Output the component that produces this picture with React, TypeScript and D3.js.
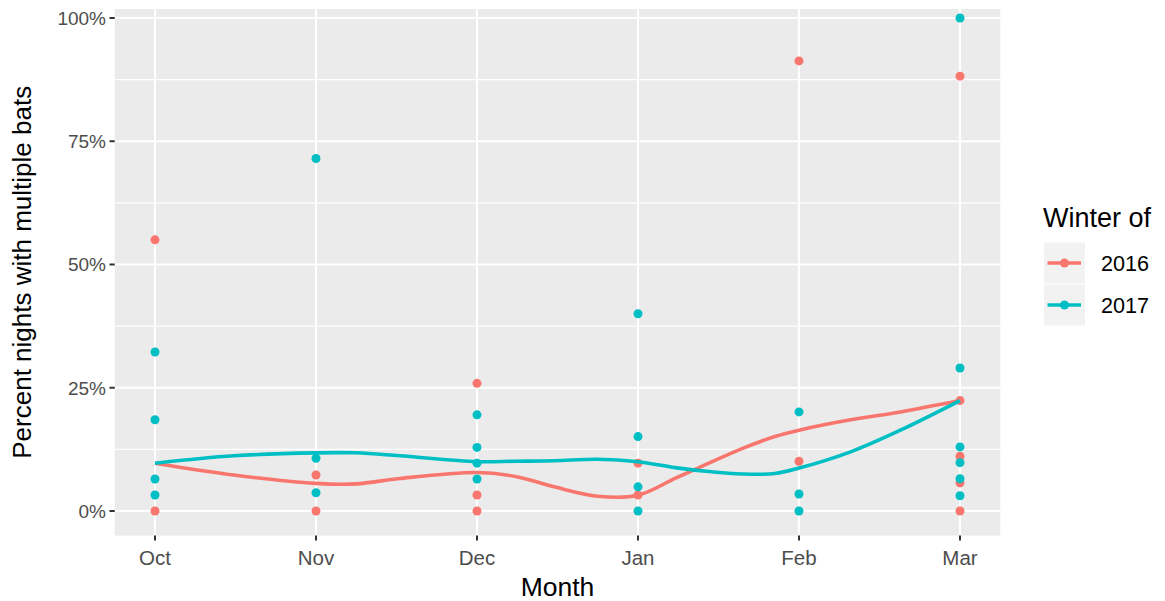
import React from "react";
import * as d3 from "d3";

const months = ["Oct", "Nov", "Dec", "Jan", "Feb", "Mar"];
const yTicks = [0, 0.25, 0.5, 0.75, 1];
const yMinor = [0.125, 0.375, 0.625, 0.875];
const seriesNames = ["2016", "2017"];
const seriesColors = ["#F8766D", "#00BFC4"];

// observed points: [month index, value]
const points2016: [number, number][] = [
  [0, 0.55], [0, 0.0],
  [1, 0.073], [1, 0.0],
  [2, 0.259], [2, 0.0325], [2, 0.0],
  [3, 0.097], [3, 0.0325],
  [4, 0.913], [4, 0.101],
  [5, 0.882], [5, 0.224], [5, 0.111], [5, 0.057], [5, 0.0],
];
const points2017: [number, number][] = [
  [0, 0.3225], [0, 0.185], [0, 0.065], [0, 0.0325],
  [1, 0.715], [1, 0.107], [1, 0.037],
  [2, 0.195], [2, 0.129], [2, 0.097], [2, 0.065],
  [3, 0.4], [3, 0.151], [3, 0.049], [3, 0.0],
  [4, 0.201], [4, 0.0345], [4, 0.0],
  [5, 1.0], [5, 0.29], [5, 0.13], [5, 0.098], [5, 0.0655], [5, 0.031],
];

// smoothed trend
const smoothX = [0, 0.49, 1.0, 1.25, 1.52, 2.0, 2.24, 2.48, 2.75, 3.0, 3.23, 3.44, 3.65, 3.85, 4.0, 4.32, 4.63, 5.0];
const smooth2016 = [0.097, 0.073, 0.056, 0.055, 0.066, 0.078, 0.07, 0.049, 0.03, 0.032, 0.066, 0.097, 0.127, 0.151, 0.164, 0.185, 0.201, 0.224];
const smooth2017 = [0.097, 0.112, 0.118, 0.118, 0.112, 0.1, 0.101, 0.102, 0.105, 0.1, 0.088, 0.08, 0.075, 0.076, 0.087, 0.12, 0.164, 0.224];

const FONT = "'Liberation Sans', Arial, Helvetica, sans-serif";

export default function App() {
  const panel = { left: 114.75, right: 1000.25, top: 9, bottom: 535.6 };
  const x = d3.scaleLinear().domain([0, 5]).range([155, 960]);
  const y = d3.scaleLinear().domain([0, 1]).range([511, 18]);
  const fmt = d3.format(".0%");

  const line = d3
    .line<[number, number]>()
    .x((d) => x(d[0]))
    .y((d) => y(d[1]))
    .curve(d3.curveCatmullRom.alpha(0.5));

  const smoothSeries = [smooth2016, smooth2017].map((vals) =>
    smoothX.map((sx, i) => [sx, vals[i]] as [number, number])
  );
  const pointSeries = [points2016, points2017];

  const legendX = 1043;
  const keyTop = [242.5, 284.5];
  const keySize = 41;

  return (
    <svg
      width={1165}
      height={601}
      style={{ position: "absolute", left: 0, top: 0, background: "#fff" }}
    >
      <rect
        x={panel.left}
        y={panel.top}
        width={panel.right - panel.left}
        height={panel.bottom - panel.top}
        fill="#EBEBEB"
      />
      {yMinor.map((v) => (
        <line key={"ym" + v} x1={panel.left} x2={panel.right} y1={y(v)} y2={y(v)} stroke="#fff" strokeWidth={1.1} />
      ))}
      {yTicks.map((v) => (
        <line key={"yg" + v} x1={panel.left} x2={panel.right} y1={y(v)} y2={y(v)} stroke="#fff" strokeWidth={2.1} />
      ))}
      {months.map((m, i) => (
        <line key={"xg" + m} x1={x(i)} x2={x(i)} y1={panel.top} y2={panel.bottom} stroke="#fff" strokeWidth={2.1} />
      ))}

      {pointSeries.map((pts, si) =>
        pts.map((p, j) => (
          <circle key={`p${si}-${j}`} cx={x(p[0])} cy={y(p[1])} r={4.5} fill={seriesColors[si]} />
        ))
      )}
      {smoothSeries.map((s, si) => (
        <path key={"s" + si} d={line(s) || ""} fill="none" stroke={seriesColors[si]} strokeWidth={3.6} />
      ))}

      {/* y axis */}
      {yTicks.map((v) => (
        <g key={"yt" + v}>
          <line x1={109.5} x2={panel.left} y1={y(v)} y2={y(v)} stroke="#333" strokeWidth={2} />
          <text x={106} y={y(v)} dy="0.36em" textAnchor="end" fontFamily={FONT} fontSize={19} fill="#4D4D4D">
            {fmt(v)}
          </text>
        </g>
      ))}
      {/* x axis */}
      {months.map((m, i) => (
        <g key={"xt" + m}>
          <line x1={x(i)} x2={x(i)} y1={panel.bottom} y2={panel.bottom + 5} stroke="#333" strokeWidth={2} />
          <text x={x(i)} y={564.5} textAnchor="middle" fontFamily={FONT} fontSize={20.5} fill="#4D4D4D">
            {m}
          </text>
        </g>
      ))}
      <text x={(panel.left + panel.right) / 2} y={596} textAnchor="middle" fontFamily={FONT} fontSize={26.5} fill="#000">
        Month
      </text>
      <text
        transform={`translate(${31},${(panel.top + panel.bottom) / 2}) rotate(-90)`}
        textAnchor="middle"
        fontFamily={FONT}
        fontSize={26}
        fill="#000"
      >
        Percent nights with multiple bats
      </text>

      {/* legend */}
      <text x={legendX} y={227} fontFamily={FONT} fontSize={27} fill="#000">
        Winter of
      </text>
      {seriesNames.map((name, i) => {
        const cy = keyTop[i] + keySize / 2;
        return (
          <g key={"lg" + name}>
            <rect x={legendX + 1} y={keyTop[i]} width={keySize} height={keySize} fill="#F2F2F2" />
            <line x1={legendX + 4.5} x2={legendX + 38} y1={cy} y2={cy} stroke={seriesColors[i]} strokeWidth={3.6} />
            <circle cx={legendX + 21.5} cy={cy} r={4.5} fill={seriesColors[i]} />
            <text x={1101} y={cy} dy="0.36em" fontFamily={FONT} fontSize={21.6} fill="#000">
              {name}
            </text>
          </g>
        );
      })}
    </svg>
  );
}
